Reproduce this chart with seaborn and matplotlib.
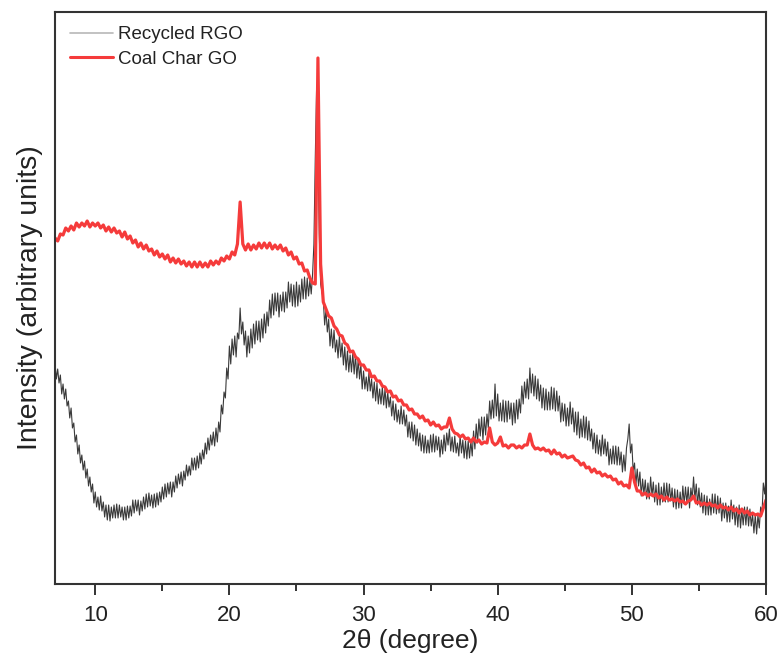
import numpy as np
import pandas as pd
import matplotlib
matplotlib.use("Agg")
import matplotlib.pyplot as plt
import seaborn as sns

# 2-theta grids (degrees)
two_theta_rgo = np.round(np.arange(7.0, 60.0001, 0.1), 1)   # 0.1 degree steps
two_theta_coal = np.round(np.arange(7.0, 60.0001, 0.2), 1)  # 0.2 degree steps

# Recycled RGO intensity (arbitrary units), one row per degree (x.0 ... x.9)
rgo = [
    221, 205, 215, 201, 209, 190, 200, 185, 195, 178,   # 7
    183, 166, 176, 156, 161, 142, 149, 130, 139, 121,   # 8
    129, 114, 123, 106, 115, 98, 107, 92, 100, 81,      # 9
    92, 77, 87, 74, 88, 73, 82, 67, 79, 64,             # 10
    79, 63, 77, 66, 79, 66, 80, 66, 79, 67,             # 11
    77, 64, 77, 64, 78, 66, 78, 68, 84, 71,             # 12
    84, 73, 84, 69, 83, 73, 87, 75, 90, 77,             # 13
    91, 78, 89, 76, 90, 77, 91, 79, 92, 82,             # 14
    97, 85, 100, 87, 101, 90, 102, 87, 102, 92,         # 15
    108, 96, 110, 100, 112, 98, 113, 104, 119, 108,     # 16
    118, 109, 126, 114, 126, 114, 128, 116, 131, 120,   # 17
    134, 125, 141, 130, 146, 134, 149, 139, 152, 138,   # 18
    156, 142, 162, 152, 179, 170, 192, 186, 216, 205,   # 19
    238, 220, 245, 229, 248, 227, 251, 245, 276, 250,   # 20
    262, 239, 253, 227, 248, 231, 255, 236, 260, 240,   # 21
    263, 244, 263, 242, 265, 246, 270, 251, 272, 258,   # 22
    284, 266, 290, 269, 291, 273, 291, 267, 289, 273,   # 23
    292, 272, 292, 276, 302, 282, 300, 278, 299, 277,   # 24
    302, 278, 299, 282, 305, 285, 307, 285, 306, 288,   # 25
    304, 290, 310, 340, 425, 496, 440, 350, 300, 292,   # 26
    285, 259, 274, 252, 265, 238, 255, 236, 254, 232,   # 27
    244, 226, 248, 227, 241, 219, 237, 214, 233, 212,   # 28
    229, 212, 231, 210, 229, 206, 224, 205, 220, 195,   # 29
    213, 195, 207, 193, 211, 193, 205, 186, 202, 183,   # 30
    201, 180, 195, 180, 197, 179, 195, 176, 192, 177,   # 31
    187, 168, 183, 164, 180, 162, 174, 160, 178, 160,   # 32
    174, 158, 169, 147, 162, 146, 162, 143, 159, 139,   # 33
    155, 138, 151, 133, 149, 131, 148, 131, 144, 131,   # 34
    149, 132, 150, 132, 148, 134, 147, 127, 144, 130,   # 35
    149, 133, 151, 139, 155, 133, 147, 132, 148, 131,   # 36
    141, 128, 148, 131, 144, 126, 143, 125, 143, 126,   # 37
    143, 128, 153, 135, 160, 141, 165, 148, 167, 144,   # 38
    167, 149, 170, 156, 183, 165, 184, 166, 200, 168,   # 39
    190, 163, 181, 163, 184, 162, 183, 162, 183, 165,   # 40
    181, 159, 181, 161, 184, 165, 185, 171, 198, 180,   # 41
    202, 186, 205, 185, 216, 191, 210, 188, 208, 185,   # 42
    205, 183, 199, 176, 196, 174, 195, 174, 192, 174,   # 43
    197, 175, 196, 173, 193, 173, 188, 162, 181, 163,   # 44
    180, 158, 176, 158, 182, 160, 176, 152, 172, 149,   # 45
    172, 146, 165, 147, 168, 146, 167, 144, 163, 143,   # 46
    155, 135, 151, 131, 149, 130, 144, 128, 149, 130,   # 47
    145, 128, 142, 119, 135, 120, 138, 120, 138, 119,   # 48
    137, 119, 132, 112, 129, 113, 136, 145, 160, 131,   # 49
    140, 112, 121, 99, 115, 98, 112, 88, 105, 90,       # 50
    104, 85, 101, 85, 107, 88, 102, 82, 99, 79,         # 51
    101, 79, 97, 82, 101, 82, 101, 82, 100, 83,         # 52
    96, 77, 95, 75, 94, 76, 92, 76, 98, 80,             # 53
    97, 81, 97, 76, 96, 85, 107, 85, 100, 79,           # 54
    96, 77, 91, 71, 89, 69, 88, 69, 85, 69,             # 55
    90, 71, 90, 70, 88, 71, 86, 63, 81, 66,             # 56
    81, 62, 78, 62, 84, 65, 79, 59, 77, 57,             # 57
    79, 56, 74, 59, 77, 59, 77, 58, 75, 58,             # 58
    70, 51, 69, 50, 69, 56, 77, 70, 101, 90,            # 59
    108]                                                # 60

# Coal Char GO intensity (arbitrary units), 0.2 degree steps
coal = [346,
        343, 350, 349, 356, 353,
        358, 354, 361, 357, 361,
        358, 363, 357, 361, 358,
        361, 356, 359, 353, 357,
        352, 356, 351, 353, 347,
        352, 345, 348, 341, 344,
        337, 341, 335, 339, 333,
        335, 329, 333, 327, 330,
        325, 329, 322, 326, 321,
        325, 320, 323, 318, 322,
        317, 322, 317, 322, 317,
        321, 317, 323, 319, 323,
        320, 326, 323, 328, 325,
        332, 329, 340, 382, 340,
        334, 340, 334, 339, 335,
        341, 336, 341, 336, 341,
        335, 339, 335, 339, 333,
        336, 329, 332, 325, 327,
        320, 321, 313, 314, 306,
        301, 300, 526, 320, 282,
        275, 268, 266, 258, 255,
        249, 248, 241, 239, 232,
        233, 227, 225, 219, 219,
        214, 214, 207, 208, 203,
        203, 198, 197, 192, 193,
        187, 188, 183, 184, 179,
        179, 174, 175, 170, 170,
        166, 168, 163, 164, 159,
        162, 158, 159, 155, 157,
        157, 166, 155, 151, 150,
        147, 149, 145, 146, 142,
        146, 142, 144, 140, 142,
        141, 156, 142, 139, 141,
        147, 138, 139, 136, 139,
        139, 136, 138, 136, 139,
        139, 150, 139, 135, 136,
        134, 136, 133, 134, 130,
        134, 130, 131, 127, 129,
        126, 127, 128, 124, 123,
        119, 121, 116, 117, 112,
        115, 111, 112, 108, 110,
        107, 108, 104, 105, 100,
        102, 98, 99, 96, 116,
        102, 93, 93, 89, 91,
        88, 90, 88, 90, 86,
        88, 84, 87, 84, 85,
        83, 85, 82, 83, 80,
        83, 84, 88, 81, 82,
        79, 81, 79, 81, 78,
        79, 76, 79, 76, 77,
        74, 77, 73, 75, 71,
        75, 71, 73, 69, 71,
        69, 70, 68, 76, 84]

series_names = ["Recycled RGO", "Coal Char GO"]
x_ticks = [10, 20, 30, 40, 50, 60]
x_minor_ticks = [15, 25, 35, 45, 55]

sns.set_style("ticks")
plt.rcParams["font.family"] = ["Liberation Sans", "DejaVu Sans"]

df_rgo = pd.DataFrame({"two_theta": two_theta_rgo, "intensity": rgo})
df_coal = pd.DataFrame({"two_theta": two_theta_coal, "intensity": coal})

fig = plt.figure(figsize=(7.82, 6.61), dpi=100)
ax = fig.add_axes([55 / 782, 77 / 661, 711 / 782, 572 / 661])

sns.lineplot(data=df_rgo, x="two_theta", y="intensity", ax=ax, color="#3a3a3a",
             lw=0.8, estimator=None, sort=False, label=series_names[0])
sns.lineplot(data=df_coal, x="two_theta", y="intensity", ax=ax, color="#f53b3b",
             lw=2.3, estimator=None, sort=False, label=series_names[1])

ax.set_xlim(7, 60)
ax.set_ylim(0, 572)
ax.set_xticks(x_ticks)
ax.set_xticks(x_minor_ticks, minor=True)
ax.set_yticks([])
ax.tick_params(axis="x", which="major", direction="out", length=8, width=1.4,
               color="#333333", labelsize=16, pad=7, labelcolor="#222222")
ax.tick_params(axis="x", which="minor", direction="out", length=5, width=1.4,
               color="#333333")
for s in ax.spines.values():
    s.set_visible(True)
    s.set_linewidth(1.5)
    s.set_color("#333333")

ax.set_xlabel("2θ (degree)", fontsize=19, color="#222222")
ax.xaxis.set_label_coords(0.5, -0.078)
ax.set_ylabel("Intensity (arbitrary units)", fontsize=20.5, color="#222222")
ax.yaxis.set_label_coords(-0.017, 0.5)

leg = ax.legend(loc="upper left", bbox_to_anchor=(0.021, 0.975), frameon=False,
                fontsize=13.5, handlelength=2.3, handletextpad=0.27,
                labelspacing=0.4, borderpad=0, borderaxespad=0)
handles = leg.legend_handles
handles[0].set_color("#b8b8b8")
handles[0].set_linewidth(1.2)
handles[1].set_linewidth(2.2)
for t in leg.get_texts():
    t.set_color("#222222")

fig.savefig("out.png", dpi=100)
